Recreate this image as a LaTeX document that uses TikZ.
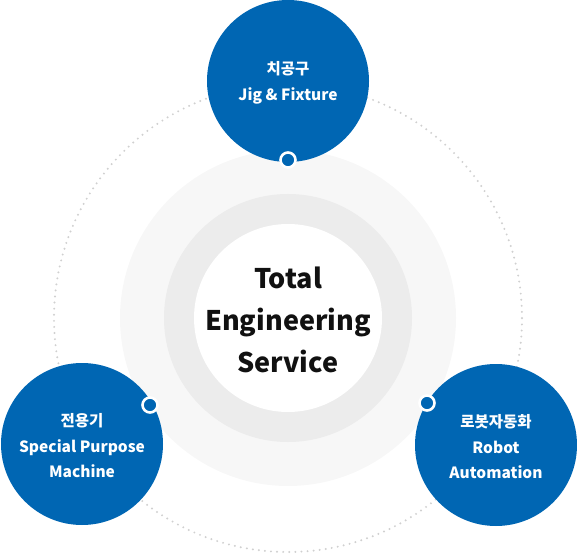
\documentclass[tikz,border=0pt]{standalone}
\usepackage{fontspec}
\setmainfont{Noto Sans CJK KR}
\definecolor{brandblue}{RGB}{0,102,179}
\definecolor{ringlight}{RGB}{247,247,247}
\definecolor{ringmid}{RGB}{236,236,236}
\definecolor{dotgray}{RGB}{208,208,208}
\definecolor{textdark}{RGB}{17,17,17}
\tikzset{
  bluecircle/.style={circle, fill=brandblue, minimum size=162pt, inner sep=0pt},
  bluetext/.style={text=white, align=center, yshift=-2pt,
    font=\bfseries\fontsize{15.5}{25.5}\selectfont},
  linkdot/.style={circle, fill=brandblue, draw=white, line width=2.6pt,
    minimum size=15pt, inner sep=0pt},
  dottedring/.style={draw=dotgray, line width=2.2pt, line cap=round,
    dash pattern=on 0pt off 6.1pt},
  centertext/.style={align=center, text=textdark, yshift=-2pt,
    font=\bfseries\fontsize{27}{42}\selectfont}
}
\begin{document}
\begin{tikzpicture}[x=1pt,y=1pt]
  \useasboundingbox (0,0) rectangle (577,554);
  \coordinate (c) at (288,236);
  % dotted orbit
  \draw[dottedring] (c) circle[radius=234pt];
  % rings
  \fill[ringlight] (c) circle[radius=168pt];
  \fill[ringmid] (c) circle[radius=124pt];
  \fill[white] (c) circle[radius=94pt];
  \node[centertext] (core) at (c) {Total\\Engineering\\Service};
  % blue circles
  \node[bluecircle] (jig) at (288,473) {};
  \node[bluecircle] (spm) at (82,110) {};
  \node[bluecircle] (robot) at (496,109) {};
  \node[bluetext] (jigtext) at (jig) {치공구\\Jig \& Fixture};
  \node[bluetext] (spmtext) at (spm) {전용기\\Special Purpose\\Machine};
  \node[bluetext] (robottext) at (robot) {로봇자동화\\Robot\\Automation};
  % link dots
  \node[linkdot] (jigdot) at (288,394) {};
  \node[linkdot] (spmdot) at (150,149) {};
  \node[linkdot] (robotdot) at (427,151) {};
\end{tikzpicture}
\end{document}
